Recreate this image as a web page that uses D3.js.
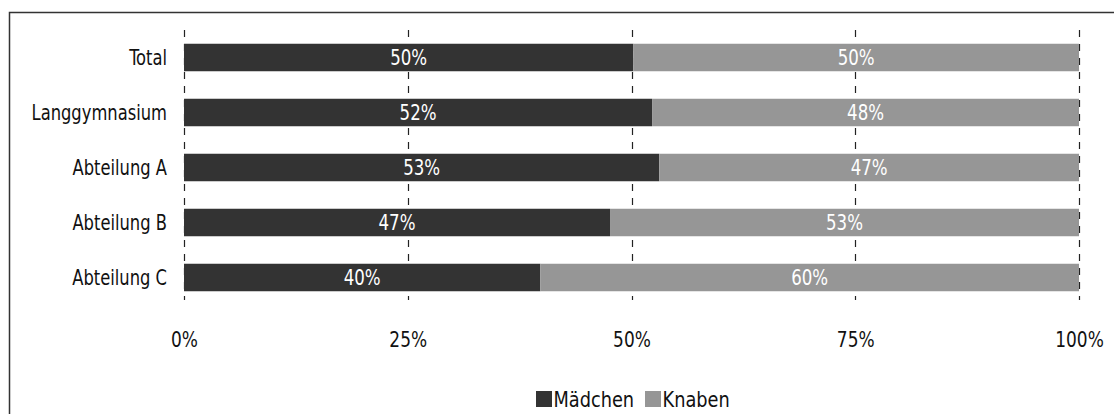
<!DOCTYPE html>
<html><head><meta charset="utf-8">
<script src="https://cdn.jsdelivr.net/npm/d3@7"></script>
<style>body{margin:0;background:#fff}svg{display:block}text{font-family:"DejaVu Sans Condensed","Liberation Sans Narrow",sans-serif}</style>
</head><body><svg id="c" width="1114" height="414"></svg>
<script>
const categories = ["Total","Langgymnasium","Abteilung A","Abteilung B","Abteilung C"];
const maedchen = [50.2, 52.3, 53.1, 47.6, 39.8];
const knaben = [49.8, 47.7, 46.9, 52.4, 60.2];
const maedchenLabels = ["50%","52%","53%","47%","40%"];
const knabenLabels = ["50%","48%","47%","53%","60%"];
const seriesNames = ["Mädchen","Knaben"];
const tickValues = [0,25,50,75,100];
const tickLabels = ["0%","25%","50%","75%","100%"];

const colors = ["#333333","#969696"];
const svg = d3.select("#c");
const fs = 21;

svg.append("rect").attr("x",9.5).attr("y",12.5).attr("width",1120).attr("height",420)
  .attr("fill","none").attr("stroke","#333").attr("stroke-width",1.5);

const x = d3.scaleLinear().domain([0,100]).range([184,1079]);
const y = d3.scaleBand().domain(categories).range([30,305]).paddingInner(0.5).paddingOuter(0.25);

// gridlines
svg.append("g").selectAll("line").data(tickValues).join("line")
  .attr("x1",d=>Math.round(x(d))+0.5).attr("x2",d=>Math.round(x(d))+0.5)
  .attr("y1",30).attr("y2",300)
  .attr("stroke","#222").attr("stroke-width",1.2).attr("stroke-dasharray","7,7");

const rows = categories.map((c,i)=>({c, m:maedchen[i], k:knaben[i], ml:maedchenLabels[i], kl:knabenLabels[i]}));

const g = svg.append("g");
g.selectAll("rect.m").data(rows).join("rect").attr("class","m")
  .attr("x",x(0)).attr("y",d=>y(d.c)).attr("width",d=>x(d.m)-x(0)).attr("height",y.bandwidth())
  .attr("fill",colors[0]);
g.selectAll("rect.k").data(rows).join("rect").attr("class","k")
  .attr("x",d=>x(d.m)).attr("y",d=>y(d.c)).attr("width",d=>x(d.m+d.k)-x(d.m)).attr("height",y.bandwidth())
  .attr("fill",colors[1]);

g.selectAll("text.ml").data(rows).join("text")
  .attr("transform",d=>`translate(${(x(0)+x(d.m))/2},${y(d.c)+y.bandwidth()/2}) scale(0.88,1)`)
  .attr("dy","0.36em").attr("text-anchor","middle").attr("fill","#fff").attr("font-size",fs)
  .text(d=>d.ml);
g.selectAll("text.kl").data(rows).join("text")
  .attr("transform",d=>`translate(${(x(d.m)+x(d.m+d.k))/2},${y(d.c)+y.bandwidth()/2}) scale(0.88,1)`)
  .attr("dy","0.36em").attr("text-anchor","middle").attr("fill","#fff").attr("font-size",fs)
  .text(d=>d.kl);

// y axis labels
const yAxis = d3.axisLeft(y).tickSize(0).tickPadding(0);
const ya = svg.append("g").attr("transform","translate(167,0)").call(yAxis);
ya.select(".domain").remove();
ya.selectAll("text").attr("font-size",fs).attr("fill","#111").attr("font-family",null)
  .attr("dy","0.36em").attr("x",0).attr("transform","scale(0.865,1)");

// x axis labels
const xAxis = d3.axisBottom(x).tickValues(tickValues).tickFormat((d,i)=>tickLabels[i]).tickSize(0).tickPadding(0);
const xa = svg.append("g").attr("transform","translate(0,332)").call(xAxis);
xa.select(".domain").remove();
xa.selectAll("text").attr("font-size",fs).attr("fill","#111").attr("font-family",null)
  .attr("dy","0.71em").attr("y",0).attr("transform","scale(0.9,1)");

// legend
const leg = svg.append("g");
const legX = [536, 645];
seriesNames.forEach((n,i)=>{
  leg.append("rect").attr("x",legX[i]).attr("y",391).attr("width",16).attr("height",16).attr("fill",colors[i]);
  leg.append("text").attr("transform",`translate(${legX[i]+17.5},399) scale(0.94,1)`)
    .attr("dy","0.36em").attr("font-size",fs).attr("fill","#111").text(n);
});
</script></body></html>
